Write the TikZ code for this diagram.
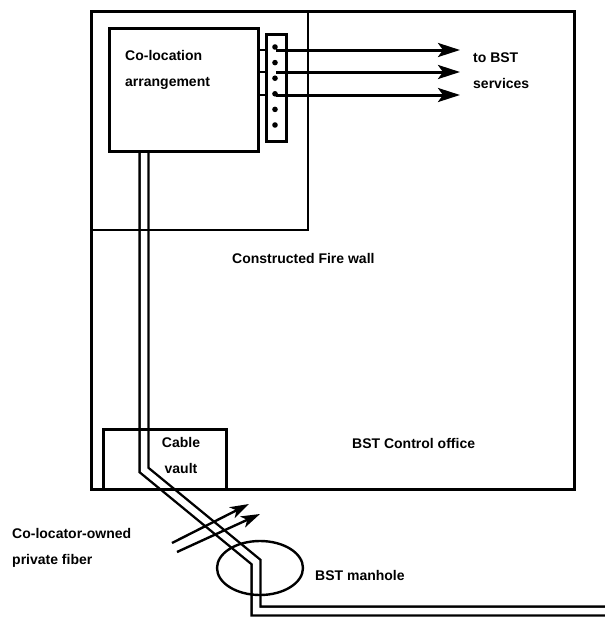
\documentclass[tikz,border=0pt]{standalone}
\usepackage{fontspec}
\setmainfont{Liberation Sans}
\usepackage{tikz}
\usetikzlibrary{positioning,shapes.geometric,arrows.meta}

\begin{document}
\begin{tikzpicture}[
    x=1pt, y=-1pt,
    wall/.style={draw=black, line width=2.8pt},
    room/.style={
      rectangle, draw=black, line width=2.8pt,
      inner sep=0pt, anchor=north west
    },
    tag/.style={
      font=\fontsize{14}{26}\selectfont\bfseries,
      align=left, inner sep=0pt, anchor=north west
    },
    cable/.style={draw=black, line width=2.4pt, double=white, double distance=6.5pt},
    feed/.style={-{Stealth[length=22pt,width=14pt,inset=5pt]}, line width=3pt},
    fiber/.style={-{Stealth[length=19pt,width=12pt,inset=5pt]}, line width=2.4pt},
  ]

  \useasboundingbox (0,0) rectangle (605,619);

  %% Cable from the co-location room down to the manhole
  \coordinate (cabletop) at (144,150);
  \coordinate (bend1) at (144,470);
  \coordinate (bend2) at (256,562);
  \coordinate (bend3) at (256,611);
  \coordinate (cableend) at (605,611);
  \draw[cable] (cabletop) -- (bend1) -- (bend2) -- (bend3) -- (cableend);

  %% Building, fire wall and rooms
  \node[room, minimum width=483, minimum height=478] (office) at (90,10) {};
  \coordinate (fw) at (308,230);
  \draw[wall] (office.west |- fw) -| (fw |- office.north);
  \node[room, minimum width=149, minimum height=123] (coloc) at (108,27) {};
  \node[room, minimum width=20, minimum height=107] (panel) at (265,33) {};
  \node[room, minimum width=123, minimum height=60] (vault) at (102,428) {};
  \node[draw, ellipse, line width=2.4pt, minimum width=86, minimum height=54]
    (manhole) at (260,568) {};

  %% Patch panel ports
  \foreach \i in {0,...,5}
    \fill (275,47+15.6*\i) circle (2.8);

  %% Links to BST services
  \foreach \y/\n in {50/a,72/b,95/c} {
    \coordinate (out\n) at (460,\y);
    \draw[line width=2.6pt] (coloc.east |- out\n) -- (panel.west |- out\n);
    \draw[feed] (panel.center |- out\n) -- (out\n);
  }

  %% Private fiber entering
  \coordinate (fibA) at (172,543);
  \coordinate (fibAend) at (249,504);
  \coordinate (fibB) at (177,552);
  \coordinate (fibBend) at (260,514);
  \draw[fiber] (fibA) -- (fibAend);
  \draw[fiber] (fibB) -- (fibBend);

  %% Labels
  \node[tag] (coloctext) at (125,50) {Co-location\\arrangement};
  \node[tag] (services) at (473,53) {to BST\\services};
  \node[tag] (firewall) at (232,253) {Constructed Fire wall};
  \node[tag, align=center, anchor=north] (vaulttext) at (181,437) {Cable\\vault};
  \node[tag] (officetext) at (352,438) {BST Control office};
  \node[tag] (manholetext) at (315,570) {BST manhole};
  \node[tag] (fibertext) at (12,528) {Co-locator-owned\\private fiber};

\end{tikzpicture}
\end{document}
